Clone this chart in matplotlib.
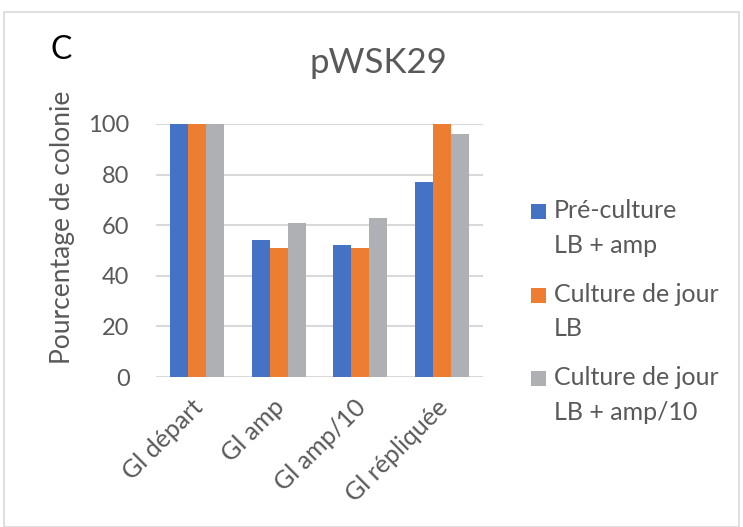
import matplotlib.pyplot as plt
import matplotlib.patches as mpatches
import matplotlib.transforms as mtransforms
import numpy as np

plt.rcParams['font.family'] = ['Lato', 'DejaVu Sans']

categories = ['Gl départ', 'Gl amp', 'Gl amp/10', 'Gl répliquée']
series_names = ['Pré-culture\nLB + amp', 'Culture de jour\nLB', 'Culture de jour\nLB + amp/10']
pre_culture = [100, 54, 52, 77]
culture_lb = [100, 51, 51, 100]
culture_amp10 = [100, 61, 63, 96]
yticks = [0, 20, 40, 60, 80, 100]

values = [pre_culture, culture_lb, culture_amp10]
colors = ['#4472C4', '#ED7D31', '#AFB0B3']
text_color = '#595959'

W, H = 743, 527
fig = plt.figure(figsize=(W / 100, H / 100), dpi=100)
# chart frame
fig.add_artist(mpatches.Rectangle((0.005, 0.0), 0.99, 0.978, transform=fig.transFigure,
                                  fill=False, edgecolor='#D9D9D9', linewidth=1.2))
ax = fig.add_axes([156 / W, 1 - 377 / H, 327 / W, 253 / H])

x = np.arange(len(categories))
width = 0.22
for i in range(3):
    ax.bar(x + (i - 1) * width, values[i], width, color=colors[i],
           zorder=3, linewidth=0)

ax.set_xlim(-0.5, len(categories) - 0.5)
ax.set_ylim(0, 100)
ax.set_yticks(yticks)
ax.grid(axis='y', color='#D9D9D9', linewidth=1.5, zorder=0)
ax.set_axisbelow(True)
for s in ['top', 'right', 'left', 'bottom']:
    ax.spines[s].set_visible(False)
ax.tick_params(axis='both', length=0, labelcolor=text_color)
ax.tick_params(axis='y', labelsize=17, pad=19)
ax.set_xticks(x)
ax.set_xticklabels(categories, rotation=45, ha='right', rotation_mode='anchor')
ax.tick_params(axis='x', labelsize=18, pad=13)
shift = mtransforms.ScaledTranslation(-0.06, 0, fig.dpi_scale_trans)
for lbl in ax.get_xticklabels():
    lbl.set_transform(lbl.get_transform() + shift)
ax.set_ylabel('Pourcentage de colonie', fontsize=19, color=text_color)
ax.yaxis.set_label_coords(-0.248, 0.593)

fig.text(378 / W, 1 - 63 / H, 'pWSK29', fontsize=25, color=text_color, ha='center', va='center')
fig.text(50 / W, 1 - 50 / H, 'C', fontsize=23, color='black', ha='left', va='center')

# legend drawn as squares + two-line labels
sq = 15
for i, name in enumerate(series_names):
    y_top = 204 + i * 83.7
    fig.add_artist(mpatches.Rectangle((531 / W, 1 - (y_top + sq) / H), sq / W, sq / H,
                                      transform=fig.transFigure, color=colors[i], linewidth=0))
    fig.text(554 / W, 1 - (y_top - 5) / H, name, fontsize=18, color=text_color,
             ha='left', va='top', linespacing=1.62)

fig.savefig('out.png', dpi=100)
